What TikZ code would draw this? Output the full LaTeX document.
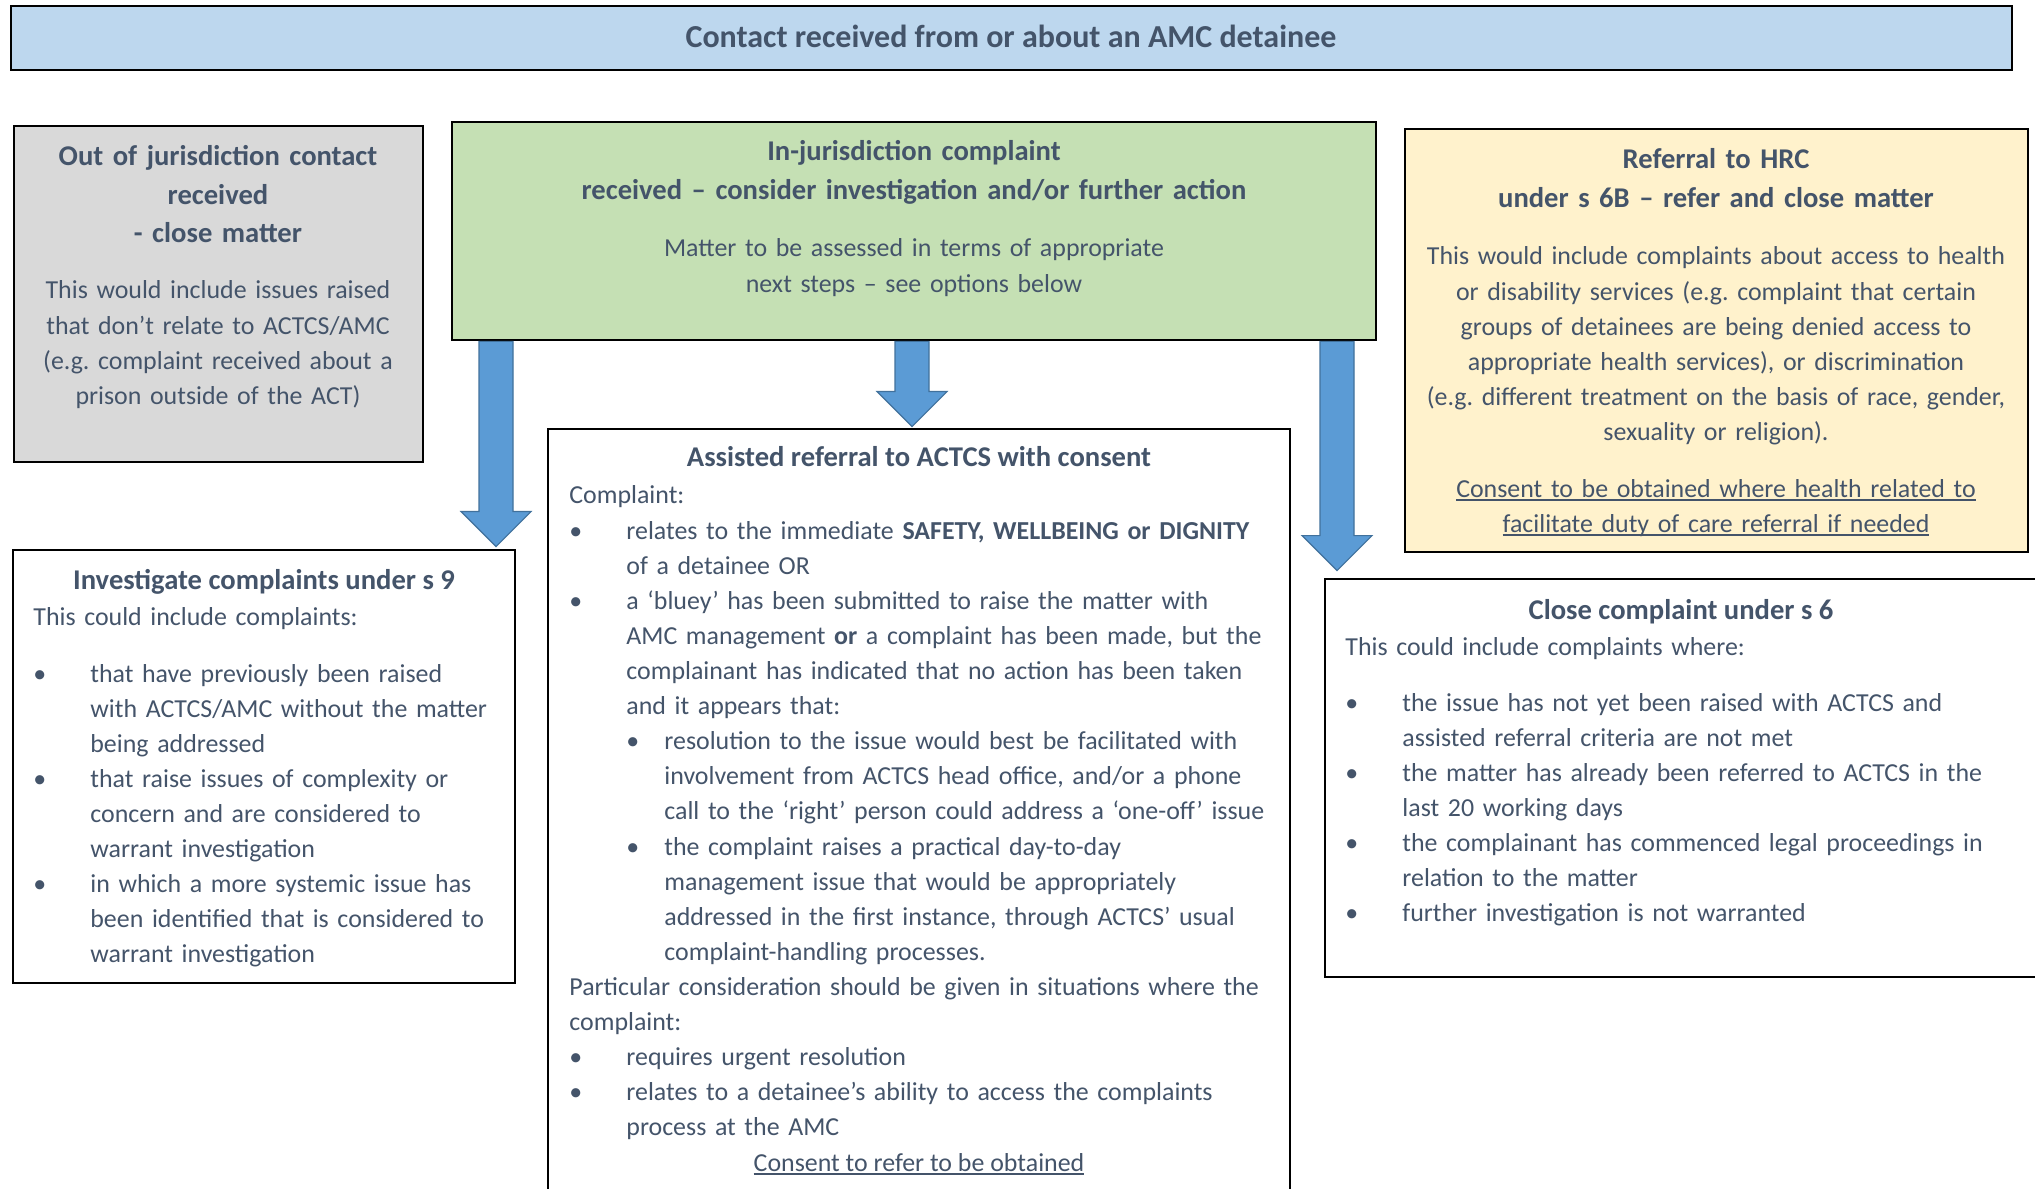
\documentclass[tikz,border=0pt]{standalone}
\usepackage{fontspec}
\setmainfont{Carlito}
\usetikzlibrary{fit,calc}
\frenchspacing

\definecolor{textslate}{HTML}{44546A}
\definecolor{titleblue}{HTML}{BDD7EE}
\definecolor{outgray}{HTML}{D9D9D9}
\definecolor{ingreen}{HTML}{C5E0B4}
\definecolor{hrcyellow}{HTML}{FFF2CC}
\definecolor{arrowblue}{HTML}{5B9BD5}
\definecolor{arrowedge}{HTML}{41719C}

\newcommand{\bitem}{\makebox[28.5bp][l]{\textbullet}}
\newcommand{\bskip}{\hspace*{28.5bp}}
\newcommand{\sitem}{\hspace*{28.5bp}\makebox[19bp][l]{\textbullet}}
\newcommand{\sskip}{\hspace*{47.5bp}}
\newcommand{\undl}[1]{\leavevmode\setbox0\hbox{#1}\rlap{\rule[-1.8bp]{\wd0}{0.7bp}}\box0}

\tikzset{
  box/.style={draw=black, line width=1.4bp, inner sep=0pt},
  head/.style={inner sep=0pt, text=textslate, font=\fontsize{14.3bp}{19.2bp}\selectfont\bfseries},
  body/.style={inner sep=0pt, text=textslate, font=\fontsize{12.95bp}{17.55bp}\selectfont},
  blockarrow/.style={fill=arrowblue, draw=arrowedge, line width=0.6bp},
}

\begin{document}
\begin{tikzpicture}[x=0.5bp, y=-0.5bp]
    \useasboundingbox (0,0) rectangle (2035,1189);
    \fill[white] (0,0) rectangle (2035,1189);
    \clip (0,0) rectangle (2035,1189);

    \node[box, fill=titleblue, fit={(11,6) (2012,70)}] (title) {};
    \node[box, fill=outgray, fit={(14,126) (423,462)}] (outj) {};
    \node[box, fill=ingreen, fit={(452,122) (1376,340)}] (inj) {};
    \node[box, fill=hrcyellow, fit={(1405,129) (2028,552)}] (hrc) {};
    \node[box, fill=white, fit={(13,550) (515,983)}] (inv) {};
    \node[box, fill=white, fit={(548,429) (1290,1240)}] (asr) {};
    \node[box, fill=white, fit={(1325,579) (2045,977)}] (cls) {};

    \foreach \x/\t/\g in {496/inv/2, 912/asr/1, 1337/cls/7} {
        \path (\x,0) coordinate (col);
        \coordinate (a) at (inj.south -| col);
        \coordinate (b) at ($(\t.north -| col)+(0,-\g)$);
        \draw[blockarrow] ($(a)+(-17,0)$) -- ($(a)+(17,0)$) -- ($(b)+(17,-35)$)
            -- ($(b)+(35,-35)$) -- (b) -- ($(b)+(-35,-35)$) -- ($(b)+(-17,-35)$) -- cycle;
    }

    \node[head, font=\fontsize{16bp}{19bp}\selectfont\bfseries, anchor=base] (titletext) at (1011,48)
        {Contact received from or about an AMC detainee};

    \node[head, align=center, text width=200bp, anchor=base] (outjhead) at (218,166)
        {Out of jurisdiction contact\\received\\- close matter};
    \node[body, align=center, text width=200bp, anchor=base] (outjbody) at (218,299)
        {This would include issues raised\\that don’t relate to ACTCS/AMC\\(e.g. complaint received about a\\prison outside of the ACT)};

    \node[head, align=center, text width=450bp, anchor=base] (injhead) at (914,161)
        {In-jurisdiction complaint\\received – consider investigation and/or further action};
    \node[body, align=center, text width=450bp, anchor=base] (injbody) at (914,257)
        {Matter to be assessed in terms of appropriate\\next steps – see options below};

    \node[head, align=center, text width=310bp, anchor=base] (hrchead) at (1716,169)
        {Referral to HRC\\under s 6B – refer and close matter};
    \node[body, align=center, text width=310bp, anchor=base] (hrcbody) at (1716,265)
        {This would include complaints about access to health\\or disability services (e.g. complaint that certain\\groups of detainees are being denied access to\\appropriate health services), or discrimination\\(e.g. different treatment on the basis of race, gender,\\sexuality or religion).};
    \node[body, align=center, text width=310bp, anchor=base] (hrcnote) at (1716,497)
        {\undl{Consent to be obtained where health related to}\\\undl{facilitate duty of care referral if needed}};

    \node[head, anchor=base] (invhead) at (264,589) {Investigate complaints under s 9};
    \node[body, align=left, text width=240bp, anchor=base west] (invbody) at (33,625)
        {This could include complaints:\\[10.95bp]
        \bitem that have previously been raised\\
        \bskip with ACTCS/AMC without the matter\\
        \bskip being addressed\\
        \bitem that raise issues of complexity or\\
        \bskip concern and are considered to\\
        \bskip warrant investigation\\
        \bitem in which a more systemic issue has\\
        \bskip been identified that is considered to\\
        \bskip warrant investigation};

    \node[head, anchor=base] (asrhead) at (919,467) {Assisted referral to ACTCS with consent};
    \node[body, align=left, text width=360bp, anchor=base west] (asrbody) at (569,504)
        {Complaint:\\
        \bitem relates to the immediate \textbf{SAFETY, WELLBEING or DIGNITY}\\
        \bskip of a detainee OR\\
        \bitem a ‘bluey’ has been submitted to raise the matter with\\
        \bskip AMC management \textbf{or} a complaint has been made, but the\\
        \bskip complainant has indicated that no action has been taken\\
        \bskip and it appears that:\\
        \sitem resolution to the issue would best be facilitated with\\
        \sskip involvement from ACTCS head office, and/or a phone\\
        \sskip call to the ‘right’ person could address a ‘one-off’ issue\\
        \sitem the complaint raises a practical day-to-day\\
        \sskip management issue that would be appropriately\\
        \sskip addressed in the first instance, through ACTCS’ usual\\
        \sskip complaint-handling processes.\\
        Particular consideration should be given in situations where the\\
        complaint:\\
        \bitem requires urgent resolution\\
        \bitem relates to a detainee’s ability to access the complaints\\
        \bskip process at the AMC};
    \node[body, anchor=base] (asrnote) at (919,1171) {\undl{Consent to refer to be obtained}};

    \node[head, anchor=base] (clshead) at (1681,619) {Close complaint under s 6};
    \node[body, align=left, text width=330bp, anchor=base west] (clsbody) at (1345,655)
        {This could include complaints where:\\[10.45bp]
        \bitem the issue has not yet been raised with ACTCS and\\
        \bskip assisted referral criteria are not met\\
        \bitem the matter has already been referred to ACTCS in the\\
        \bskip last 20 working days\\
        \bitem the complainant has commenced legal proceedings in\\
        \bskip relation to the matter\\
        \bitem further investigation is not warranted};
\end{tikzpicture}
\end{document}
